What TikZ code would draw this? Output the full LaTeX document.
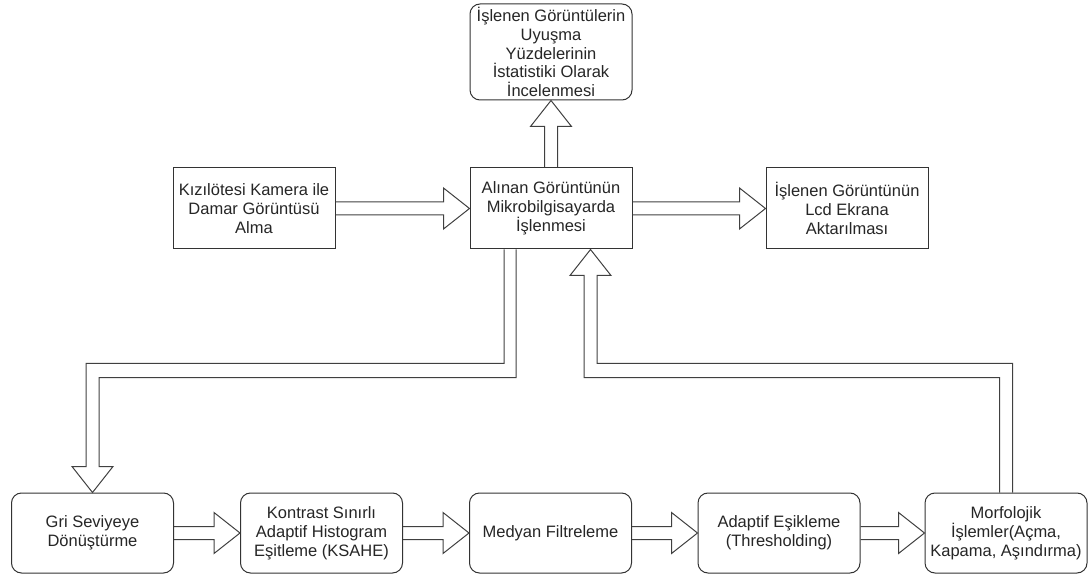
\documentclass[tikz,border=0pt]{standalone}
\usepackage{fontspec}
\setmainfont{Liberation Sans}
\usetikzlibrary{calc}

\tikzset{
    box/.style={draw=black!80, line width=1pt, fill=white, minimum width=162pt, minimum height=81pt,
        align=center, inner sep=0pt, text=black!85, font=\fontsize{16.5}{18.8}\selectfont},
    roundbox/.style={box, rounded corners=10pt},
    blockarrow/.style={draw=black!75, line width=1pt, line join=miter}
}

\begin{document}
\begin{tikzpicture}[x=1pt, y=-1pt]
    \useasboundingbox (0,0) rectangle (1090,577);

    % Top box
    \node[roundbox, minimum height=96pt] (stat) at (551,52) {İşlenen Görüntülerin\\Uyuşma\\Yüzdelerinin\\İstatistiki Olarak\\İncelenmesi};

    % Middle row
    \node[box] (cam) at (254,208.5) {Kızılötesi Kamera ile\\Damar Görüntüsü\\Alma};
    \node[box] (proc) at (551,208.5) {Alınan Görüntünün\\Mikrobilgisayarda\\İşlenmesi};
    \node[box] (lcd) at (847,208.5) {İşlenen Görüntünün\\Lcd Ekrana\\Aktarılması};

    % Bottom row
    \node[roundbox, minimum height=80pt] (gri) at (92.5,533) {Gri Seviyeye\\Dönüştürme};
    \node[roundbox, minimum height=80pt] (ksahe) at (321.5,533) {Kontrast Sınırlı\\Adaptif Histogram\\Eşitleme (KSAHE)};
    \node[roundbox, minimum height=80pt] (medyan) at (550.5,533) {Medyan Filtreleme};
    \node[roundbox, minimum height=80pt] (esik) at (779,533) {Adaptif Eşikleme\\(Thresholding)};
    \node[roundbox, minimum height=80pt] (morf) at (1006,533) {Morfolojik\\İşlemler(Açma,\\Kapama, Aşındırma)};

    % Straight block arrows
    \foreach \a/\b in {cam/proc, proc/lcd, gri/ksahe, ksahe/medyan, medyan/esik, esik/morf} {
        \draw[blockarrow] ($(\a.east)+(0,-6.5)$) -- ($(\b.west)+(-26,-6.5)$) -- ($(\b.west)+(-26,-20.5)$)
            -- (\b.west) -- ($(\b.west)+(-26,20.5)$) -- ($(\b.west)+(-26,6.5)$) -- ($(\a.east)+(0,6.5)$);
    }
    \draw[blockarrow] ($(proc.north)+(-6.5,0)$) -- ($(proc.north)+(-6.5,-41)$) -- ($(proc.north)+(-20.5,-41)$)
        -- (stat.south) -- ($(proc.north)+(20.5,-41)$) -- ($(proc.north)+(6.5,-41)$) -- ($(proc.north)+(6.5,0)$);

    % Bent arrow down to the bottom row
    \draw[blockarrow] ($(proc.south)+(-47,0)$) |- ($(gri.north)+(-6.5,-129)$) -- ($(gri.north)+(-6.5,-26)$)
        -- ($(gri.north)+(-20.5,-26)$) -- (gri.north) -- ($(gri.north)+(20.5,-26)$) -- ($(gri.north)+(6.5,-26)$)
        |- ($(proc.south)+(-35,128)$) -- ($(proc.south)+(-35,0)$);

    % Bent arrow back up to the processing box
    \draw[blockarrow] ($(morf.north)+(-6.5,0)$) |- ($(proc.south)+(33,128)$) -- ($(proc.south)+(33,26)$)
        -- ($(proc.south)+(19,26)$) -- ($(proc.south)+(39.5,0)$) -- ($(proc.south)+(60,26)$) -- ($(proc.south)+(46,26)$)
        |- ($(morf.north)+(6.5,-129)$) -- ($(morf.north)+(6.5,0)$);
\end{tikzpicture}
\end{document}
